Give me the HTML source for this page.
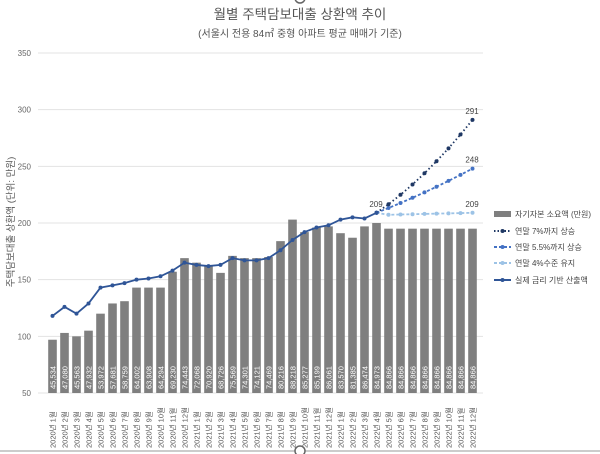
<!DOCTYPE html>
<html><head><meta charset="utf-8"><style>
body{margin:0;background:#fff;}
svg{display:block;font-family:"Liberation Sans","Noto Sans CJK KR",sans-serif;}
</style></head><body>
<svg id="c" width="600" height="454" viewBox="0 0 600 454" xmlns="http://www.w3.org/2000/svg">
<text x="300" y="19" text-anchor="middle" font-size="13.5" fill="#555">월별 주택담보대출 상환액 추이</text>
<text x="300" y="37" text-anchor="middle" font-size="10" fill="#555">(서울시 전용 84㎡ 중형 아파트 평균 매매가 기준)</text>
<text x="14" y="222" text-anchor="middle" font-size="9.5" fill="#555" transform="rotate(-90 14 222)">주택담보대출 상환액 (단위: 만원)</text>
<g id="g"></g>
<line x1="0" y1="451" x2="600" y2="451" stroke="#999" stroke-width="1"/>
<circle cx="300" cy="451" r="5" fill="#fff" stroke="#666" stroke-width="1.5"/>
<circle cx="300" cy="-2" r="5" fill="#fff" stroke="#666" stroke-width="1.5"/>
<g font-size="8" fill="#444">
<rect x="494" y="211" width="17" height="6" fill="#7f7f7f"/><text x="515" y="217">자기자본 소요액 (만원)</text>
<line x1="494" y1="231" x2="511" y2="231" stroke="#1f3864" stroke-width="2" stroke-dasharray="1.5 2"/><circle cx="502.5" cy="231" r="2" fill="#1f3864"/><text x="515" y="234">연말 7%까지 상승</text>
<line x1="494" y1="247" x2="511" y2="247" stroke="#4472c4" stroke-width="2" stroke-dasharray="3 2"/><circle cx="502.5" cy="247" r="2" fill="#4472c4"/><text x="515" y="250">연말 5.5%까지 상승</text>
<line x1="494" y1="263" x2="511" y2="263" stroke="#9dc3e6" stroke-width="2" stroke-dasharray="3 2"/><circle cx="502.5" cy="263" r="2" fill="#9dc3e6"/><text x="515" y="266">연말 4%수준 유지</text>
<line x1="494" y1="280" x2="511" y2="280" stroke="#2f5597" stroke-width="2"/><circle cx="502.5" cy="280" r="2" fill="#2f5597"/><text x="515" y="283">실제 금리 기반 산출액</text>
</g>
</svg>
<script>
var g=document.getElementById('g'),h='';
function Y(v){return 393-(v-50)*340/300;}
function X(i){return 52.5+i*12;}
for(var v=50;v<=350;v+=50){h+='<line x1="38" x2="483" y1="'+Y(v)+'" y2="'+Y(v)+'" stroke="#e3e3e3"/>';h+='<text x="31" y="'+(Y(v)+3)+'" text-anchor="end" font-size="8" fill="#666">'+v+'</text>';}
var bars=[97,103,100,105,120,129,131,143,143,143,157,169,165,162,156,171,169,169,170,184,203,192,196,197,191,187,197,200,195,195,195,195,195,195,195,195];
var bl=['45,534','47,080','45,563','47,932','53,972','57,681','58,759','64,002','63,908','64,294','69,230','74,443','72,068','70,920','68,726','75,569','74,301','74,121','74,469','80,216','88,218','85,277','85,199','86,061','83,570','81,385','86,474','84,973'];
while(bl.length<36)bl.push('84,866');
var line=[118,126,120,129,143,145,147,150,151,153,158,165,163,162,163,169,167,167,169,176,185,192,196,198,203,205,204,209];
for(var i=0;i<36;i++){var x=X(i);h+='<rect x="'+(x-4.3)+'" y="'+Y(bars[i])+'" width="8.6" height="'+(393-Y(bars[i]))+'" fill="#7f7f7f"/>';
h+='<text transform="translate('+(x+2.8)+',389) rotate(-90)" font-size="7.5" fill="#fff">'+bl[i]+'</text>';
var y=2020+Math.floor(i/12),m=i%12+1;h+='<text transform="translate('+(x+3)+',448) rotate(-90)" font-size="7.5" fill="#555">'+y+'년 '+m+'월</text>';}
function path(arr,st,col,dash,r){var p='';for(var k=0;k<arr.length;k++)p+=(k?'L':'M')+X(st+k)+','+Y(arr[k]);var s='<path d="'+p+'" fill="none" stroke="'+col+'" stroke-width="1.8"'+(dash?' stroke-dasharray="'+dash+'"':'')+'/>';for(k=0;k<arr.length;k++)s+='<circle cx="'+X(st+k)+'" cy="'+Y(arr[k])+'" r="'+r+'" fill="'+col+'"/>';return s;}
var a=[209],b=[209],c=[209];for(var k=1;k<=8;k++){a.push(209+82*(k/8)*(0.7+0.3*k/8)/1.0);b.push(209+39*(k/8)*(0.85+0.15*k/8));c.push(207+2*k/8);}
h+=path(c,27,'#9dc3e6','3 2',2);h+=path(b,27,'#4472c4','3 2',2);h+=path(a,27,'#1f3864','1.5 2.5',2);
h+=path(line,0,'#2f5597','',2);
h+='<text x="376" y="'+(Y(209)-6)+'" text-anchor="middle" font-size="8" fill="#444">209</text>';
h+='<text x="472" y="'+(Y(291)-6)+'" text-anchor="middle" font-size="8" fill="#444">291</text>';
h+='<text x="472" y="'+(Y(248)-6)+'" text-anchor="middle" font-size="8" fill="#444">248</text>';
h+='<text x="472" y="'+(Y(209)-6)+'" text-anchor="middle" font-size="8" fill="#444">209</text>';
g.innerHTML=h;
</script>
</body></html>
